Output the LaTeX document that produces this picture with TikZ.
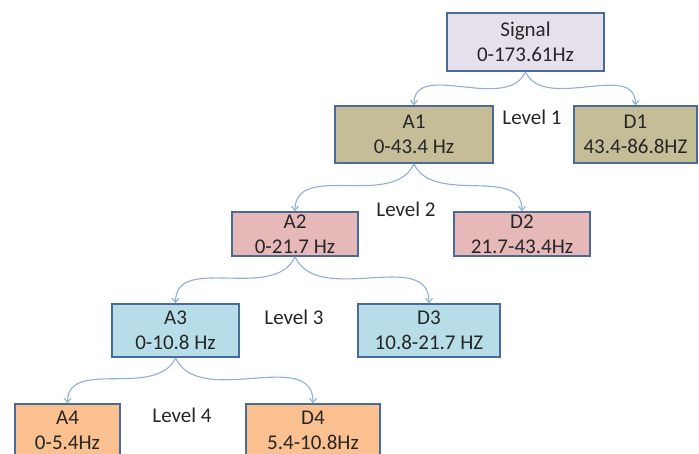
\documentclass[tikz,border=0pt]{standalone}
\usepackage{fontspec}
\setmainfont{Carlito}
\usetikzlibrary{arrows.meta}

\definecolor{edgeblue}{HTML}{4A6A99}
\definecolor{linkblue}{HTML}{8FAEDA}
\definecolor{txtgray}{HTML}{262626}
\definecolor{sigfill}{HTML}{E5E0EC}
\definecolor{lvaone}{HTML}{C4BD97}
\definecolor{lvatwo}{HTML}{E6B9B8}
\definecolor{lvathree}{HTML}{B7DEE8}
\definecolor{lvafour}{HTML}{FAC090}

\tikzset{>={Straight Barb[length=4pt,width=7pt]}}
\tikzset{
  band/.style={draw=edgeblue, line width=1.8pt, inner sep=0pt, align=center,
    text=txtgray, font=\fontsize{21}{25}\selectfont},
  lvl/.style={text=txtgray, inner sep=0pt, font=\fontsize{21}{25}\selectfont},
  link/.style={->, draw=linkblue, line width=1.1pt}
}

\begin{document}
\begin{tikzpicture}[x=1pt,y=-1pt]
  \useasboundingbox (0,0) rectangle (699,453);
  \clip (0,0) rectangle (699,453);
  % decomposition tree
  \node[band, fill=sigfill, minimum width=157pt, minimum height=58pt] (sig) at (525.5,42) {Signal\\0-173.61Hz};
  \node[band, fill=lvaone, minimum width=158pt, minimum height=57pt] (a1) at (414,134.5) {A1\\0-43.4 Hz};
  \node[band, fill=lvaone, minimum width=123pt, minimum height=57pt] (d1) at (635.5,134.5) {D1\\43.4-86.8HZ};
  \node[band, fill=lvatwo, minimum width=126pt, minimum height=44pt] (a2) at (295,234) {A2\\0-21.7 Hz};
  \node[band, fill=lvatwo, minimum width=136pt, minimum height=44pt] (d2) at (522,234) {D2\\21.7-43.4Hz};
  \node[band, fill=lvathree, minimum width=127pt, minimum height=53pt] (a3) at (175.5,330.5) {A3\\0-10.8 Hz};
  \node[band, fill=lvathree, minimum width=142pt, minimum height=53pt] (d3) at (429,330.5) {D3\\10.8-21.7 HZ};
  \node[band, fill=lvafour, minimum width=105pt, minimum height=52pt] (a4) at (67.5,430) {A4\\0-5.4Hz};
  \node[band, fill=lvafour, minimum width=134pt, minimum height=52pt] (d4) at (313,430) {D4\\5.4-10.8Hz};
  % level labels
  \foreach \n/\x/\y in {1/532/117, 2/406/209, 3/294/317, 4/182/415} {
    \node[lvl] (lv\n) at (\x,\y) {Level \n};
  }
  % splits
  \foreach \p/\c in {sig/a1, a1/a2, a2/a3, a3/a4} {
    \draw[link] (\p.south) to[out=-115,in=90] (\c.north);
  }
  \foreach \p/\c in {sig/d1, a1/d2, a2/d3, a3/d4} {
    \draw[link] (\p.south) to[out=-65,in=90] (\c.north);
  }
\end{tikzpicture}
\end{document}
